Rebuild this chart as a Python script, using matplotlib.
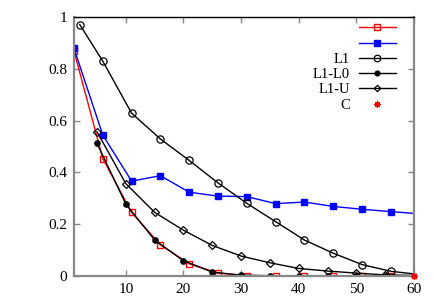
import matplotlib.pyplot as plt

plt.rcParams["font.family"] = ["Liberation Serif", "DejaVu Serif"]
plt.rcParams["font.size"] = 11

# series values (markers every 5 samples, last point is the line end at x=60)
red_x = [1, 6, 11, 16, 21, 26, 31, 36, 41, 46, 51, 56, 60]
red_y = [0.87, 0.453, 0.245, 0.119, 0.046, 0.01, 0.0, 0.0, 0.0, 0.0, 0.0, 0.0, 0.0]

blue_x = [1, 6, 11, 16, 21, 26, 31, 36, 41, 46, 51, 56, 60]
blue_y = [0.88, 0.544, 0.366, 0.387, 0.323, 0.308, 0.306, 0.279, 0.285, 0.268, 0.257, 0.248, 0.241]

l1_x = [2, 6, 11, 16, 21, 26, 31, 36, 41, 46, 51, 56, 60]
l1_y = [0.972, 0.83, 0.629, 0.529, 0.446, 0.359, 0.28, 0.209, 0.138, 0.087, 0.043, 0.017, 0.007]

l1l0_x = [5, 10, 15, 20, 25, 30, 35, 40, 45, 50, 55, 60]
l1l0_y = [0.512, 0.277, 0.138, 0.058, 0.014, 0.002, 0.0, 0.0, 0.0, 0.0, 0.0, 0.0]

l1u_x = [5, 10, 15, 20, 25, 30, 35, 40, 45, 50, 55, 60]
l1u_y = [0.557, 0.356, 0.245, 0.176, 0.117, 0.076, 0.05, 0.028, 0.018, 0.01, 0.003, 0.001]

c_x = [60]
c_y = [0.0]

labels = ["", "", "L1", "L1-L0", "L1-U", "C"]

fig = plt.figure(figsize=(4.36, 3.05), dpi=100)
ax = fig.add_axes([0.1697, 0.0961, 0.7797, 0.8472])

lw = 1.0
every = slice(0, -1)
h_red, = ax.plot(red_x, red_y, color="red", lw=lw, marker="s", ms=4.8,
                 mfc="none", mec="red", mew=1.0, markevery=every)
h_blue, = ax.plot(blue_x, blue_y, color="blue", lw=lw, marker="s", ms=4.3,
                  mfc="blue", mec="blue", markevery=every)
h_l1, = ax.plot(l1_x, l1_y, color="black", lw=lw, marker="o", ms=5.2,
                mfc="none", mec="black", mew=0.9, markevery=every)
h_l1l0, = ax.plot(l1l0_x, l1l0_y, color="black", lw=lw, marker="o", ms=3.8,
                  mfc="black", mec="black", markevery=every)
h_l1u, = ax.plot(l1u_x, l1u_y, color="black", lw=lw, marker="D", ms=3.6,
                 mfc="none", mec="black", mew=0.9, markevery=every)
h_c, = ax.plot(c_x, c_y, ls="none", marker=(8, 2, 0), ms=5, mec="red",
               mew=0.9, clip_on=False, zorder=5)

ax.set_xlim(1, 60)
ax.set_ylim(0, 1)
ax.set_xticks([10, 20, 30, 40, 50, 60])
ax.set_yticks([0, 0.2, 0.4, 0.6, 0.8, 1])
ax.set_yticklabels(["0", "0.2", "0.4", "0.6", "0.8", "1"])

for side in ["left", "bottom", "right"]:
    ax.spines[side].set_color("#888888")
    ax.spines[side].set_linewidth(1.6)
ax.spines["top"].set_color("black")
ax.spines["top"].set_linewidth(1.0)

ax.tick_params(direction="in", length=4, width=1, color="#888888",
               top=True, right=True, labelsize=11, pad=5)
for t in ax.xaxis.get_ticklines()[1::2]:
    t.set_color("black")

ax.legend([h_red, h_blue, h_l1, h_l1l0, h_l1u, h_c], labels,
          loc="upper right", bbox_to_anchor=(0.946, 0.981),
          frameon=False, markerfirst=False,
          handlelength=2.5, labelspacing=0.14, fontsize=10.5,
          borderaxespad=0, borderpad=0, handletextpad=0.65, markerscale=0.9)

fig.savefig("out.png", dpi=100)
